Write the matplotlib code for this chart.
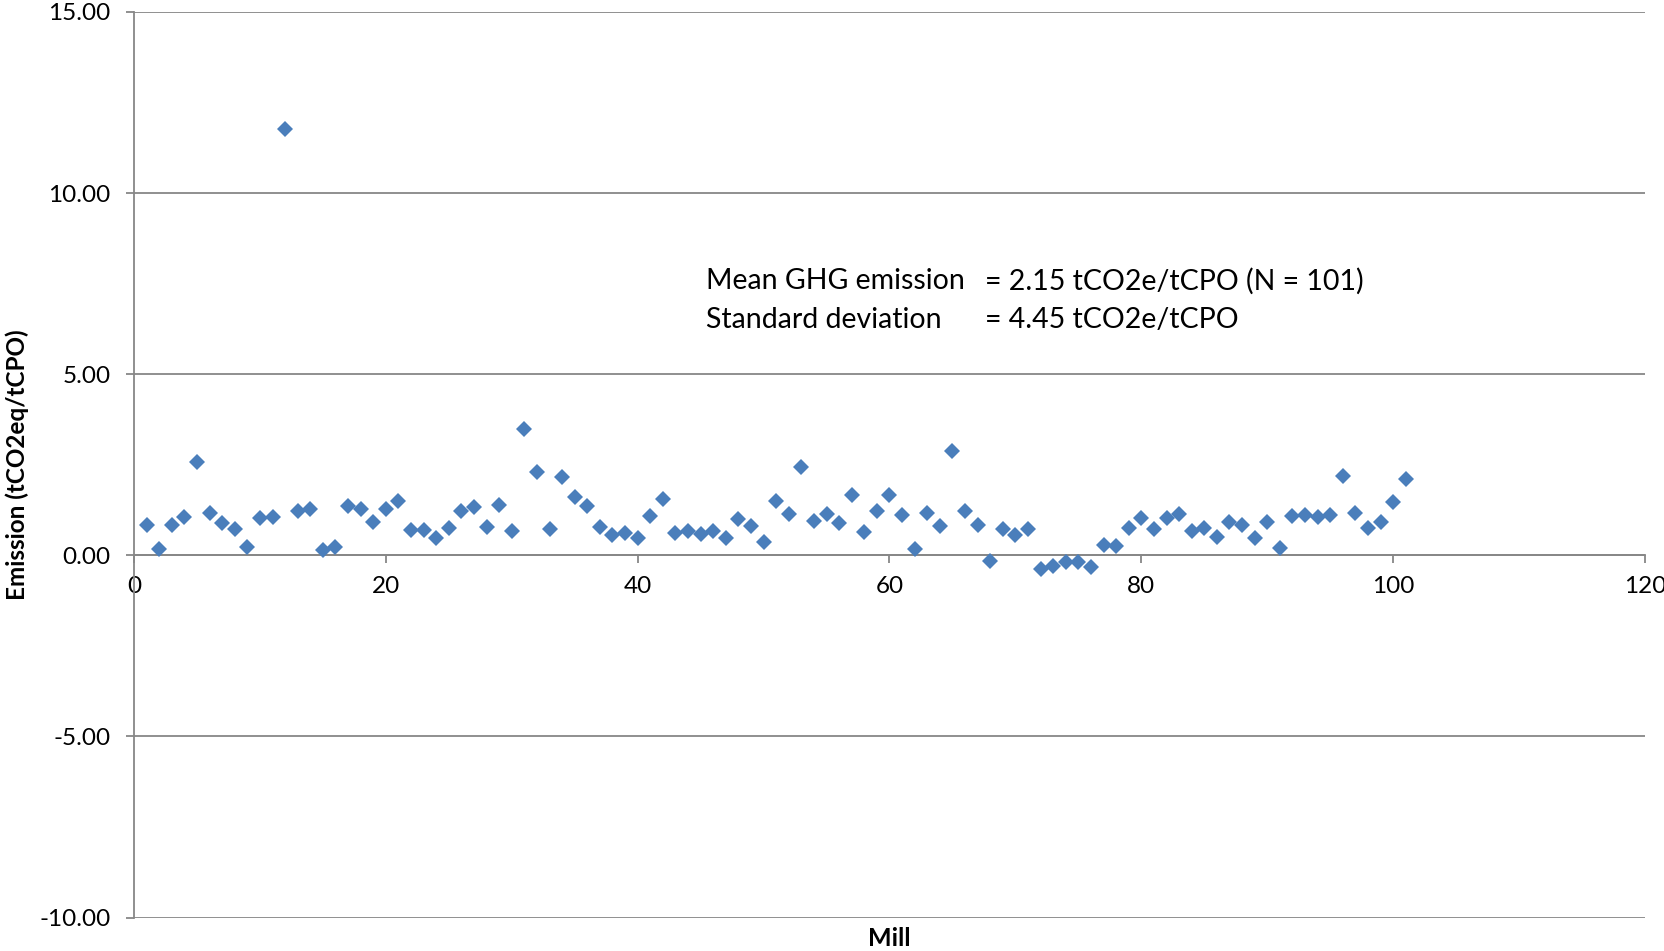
import matplotlib
matplotlib.use("Agg")
import matplotlib.pyplot as plt
from matplotlib.ticker import FormatStrFormatter

plt.rcParams['font.family'] = ['Lato', 'DejaVu Sans']
plt.rcParams['axes.unicode_minus'] = False

mill = list(range(1, 102))
emission = [
    0.85, 0.18, 0.85, 1.05, 2.57, 1.17, 0.88, 0.73, 0.23, 1.02,
    1.05, 11.78, 1.23, 1.29, 0.15, 0.23, 1.35, 1.29, 0.91, 1.29,
    1.49, 0.70, 0.70, 0.47, 0.76, 1.23, 1.32, 0.79, 1.40, 0.67,
    3.48, 2.31, 0.73, 2.16, 1.61, 1.35, 0.79, 0.56, 0.61, 0.47,
    1.08, 1.55, 0.61, 0.67, 0.58, 0.67, 0.47, 0.99, 0.82, 0.38,
    1.49, 1.14, 2.43, 0.94, 1.14, 0.88, 1.67, 0.64, 1.23, 1.67,
    1.11, 0.18, 1.17, 0.82, 2.87, 1.23, 0.85, -0.15, 0.73, 0.56,
    0.73, -0.38, -0.29, -0.18, -0.18, -0.32, 0.29, 0.26, 0.76, 1.02,
    0.73, 1.02, 1.14, 0.67, 0.76, 0.50, 0.91, 0.85, 0.47, 0.91,
    0.20, 1.08, 1.11, 1.05, 1.11, 2.19, 1.17, 0.76, 0.91, 1.46,
    2.11,
]
x_ticks = [0, 20, 40, 60, 80, 100, 120]
y_ticks = [-10, -5, 0, 5, 10, 15]
stat_labels = ["Mean GHG emission", "Standard deviation"]
stat_values = ["= 2.15 tCO2e/tCPO (N = 101)", "= 4.45 tCO2e/tCPO"]

fig = plt.figure(figsize=(16.65, 9.51), dpi=100)
ax = fig.add_axes([134/1665, 1 - 917.5/951, (1645-134)/1665, (917.5-12)/951])

grid_c = '#878787'
ax.plot(mill, emission, ls='none', marker='D', ms=8, color='#4A7EBB',
        markeredgewidth=0, zorder=3)

ax.set_xlim(0, 120)
ax.set_ylim(-10, 15)
ax.set_xticks(x_ticks)
ax.set_yticks(y_ticks)
ax.yaxis.set_major_formatter(FormatStrFormatter('%.2f'))
ax.yaxis.grid(True, color=grid_c, lw=1.3)
ax.set_axisbelow(True)

for s in ['top', 'right']:
    ax.spines[s].set_visible(False)
ax.spines['bottom'].set_position(('data', 0))
ax.spines['bottom'].set_color(grid_c)
ax.spines['bottom'].set_linewidth(1.3)
ax.spines['left'].set_color(grid_c)
ax.spines['left'].set_linewidth(1.3)

ax.tick_params(axis='both', direction='out', length=6, width=1.3, color=grid_c,
               labelsize=17.5, labelcolor='black')
ax.tick_params(axis='y', pad=11)
ax.tick_params(axis='x', pad=9)

for i, (lab, val) in enumerate(zip(stat_labels, stat_values)):
    yy = 7.57 - i * 1.07
    ax.text(45.4, yy, lab, fontsize=20.5, va='center', ha='left')
    ax.text(67.6, yy, val, fontsize=20.5, va='center', ha='left')

fig.text(17/1665, 1 - 465/951, 'Emission (tCO2eq/tCPO)', rotation=90,
         fontsize=17.5, fontweight='bold', ha='center', va='center')
fig.text(889/1665, 1 - 939/951, 'Mill', fontsize=18, fontweight='bold',
         ha='center', va='center')

fig.savefig('out.png', dpi=100)
